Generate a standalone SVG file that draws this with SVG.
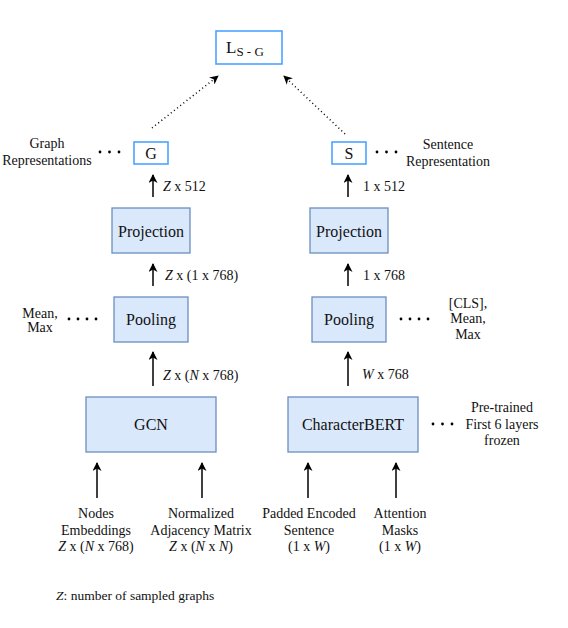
<svg xmlns="http://www.w3.org/2000/svg" width="568" height="628" viewBox="0 0 568 628">
<style>
text{font-family:"Liberation Serif","Times New Roman",serif;fill:#111;}
.lbl{font-size:14px;}
.box{font-size:16px;text-anchor:middle;}
.mid{text-anchor:middle;}
.blue{fill:#dae8fc;stroke:#6c8ebf;stroke-width:1.3;}
.out{fill:#fff;stroke:#4da3ff;stroke-width:1.6;}
.arr{stroke:#000;stroke-width:1.5;fill:none;marker-end:url(#ah);}
.dot{stroke:#000;stroke-width:1.5;fill:none;stroke-dasharray:1 3;marker-end:url(#ah);}
.d{fill:#000;}
</style>
<defs>
<marker id="ah" viewBox="0 0 10 10" refX="9" refY="5" markerWidth="10" markerHeight="9" orient="auto" markerUnits="userSpaceOnUse">
<path d="M0,0 L10,5 L0,10 L3,5 z" fill="#000"/>
</marker>
</defs>
<rect width="568" height="628" fill="#fff"/>

<g id="loss">
<rect class="out" x="216" y="31" width="66" height="33"/>
<text x="226" y="53" font-size="17">L<tspan font-size="13" dy="3">S - G</tspan></text>
</g>

<g id="G">
<rect class="out" x="134" y="142" width="34" height="22"/>
<text class="box" x="151" y="159" font-size="15">G</text>
</g>
<g id="S">
<rect class="out" x="332" y="142" width="34" height="22"/>
<text class="box" x="349" y="159" font-size="15">S</text>
</g>

<g id="graphrep">
<text class="lbl mid" x="47" y="148">Graph</text>
<text class="lbl mid" x="47" y="165">Representations</text>
<circle class="d" cx="100" cy="152" r="1.4"/><circle class="d" cx="109.5" cy="152" r="1.4"/><circle class="d" cx="119" cy="152" r="1.4"/>
</g>
<g id="sentrep">
<text class="lbl mid" x="448" y="149">Sentence</text>
<text class="lbl mid" x="448" y="166">Representation</text>
<circle class="d" cx="377" cy="152" r="1.4"/><circle class="d" cx="386.5" cy="152" r="1.4"/><circle class="d" cx="396" cy="152" r="1.4"/>
</g>

<g id="projL">
<rect class="blue" x="112" y="208" width="78" height="45"/>
<text class="box" x="151" y="237">Projection</text>
</g>
<g id="projR">
<rect class="blue" x="310" y="208" width="78" height="45"/>
<text class="box" x="349" y="237">Projection</text>
</g>

<g id="poolL">
<rect class="blue" x="114" y="297" width="74" height="45"/>
<text class="box" x="151" y="325">Pooling</text>
</g>
<g id="poolR">
<rect class="blue" x="312" y="297" width="74" height="45"/>
<text class="box" x="349" y="325">Pooling</text>
</g>

<g id="meanmax">
<text class="lbl mid" x="40" y="318">Mean,</text>
<text class="lbl mid" x="40" y="332">Max</text>
<circle class="d" cx="69" cy="319" r="1.4"/><circle class="d" cx="78" cy="319" r="1.4"/><circle class="d" cx="87" cy="319" r="1.4"/><circle class="d" cx="96" cy="319" r="1.4"/>
</g>
<g id="clsmeanmax">
<text class="lbl mid" x="468" y="308">[CLS],</text>
<text class="lbl mid" x="468" y="323">Mean,</text>
<text class="lbl mid" x="468" y="339">Max</text>
<circle class="d" cx="401" cy="319" r="1.4"/><circle class="d" cx="410" cy="319" r="1.4"/><circle class="d" cx="419" cy="319" r="1.4"/><circle class="d" cx="428" cy="319" r="1.4"/>
</g>

<g id="gcn">
<rect class="blue" x="86" y="397" width="130" height="55"/>
<text class="box" x="151" y="430">GCN</text>
</g>
<g id="cbert">
<rect class="blue" x="288" y="397" width="130" height="55"/>
<text class="box" x="353" y="430">CharacterBERT</text>
</g>
<g id="pretrained">
<text class="lbl mid" x="502" y="412">Pre-trained</text>
<text class="lbl mid" x="502" y="429">First 6 layers</text>
<text class="lbl mid" x="502" y="445">frozen</text>
<circle class="d" cx="433" cy="424" r="1.4"/><circle class="d" cx="442.5" cy="424" r="1.4"/><circle class="d" cx="452" cy="424" r="1.4"/>
</g>

<g id="inputs">
<text class="lbl mid" x="96" y="518">Nodes</text>
<text class="lbl mid" x="96" y="535">Embeddings</text>
<text class="lbl mid" x="96" y="551"><tspan font-style="italic">Z</tspan> x (<tspan font-style="italic">N</tspan> x 768)</text>
<text class="lbl mid" x="201" y="518">Normalized</text>
<text class="lbl mid" x="201" y="535">Adjacency Matrix</text>
<text class="lbl mid" x="201" y="551"><tspan font-style="italic">Z</tspan> x (<tspan font-style="italic">N</tspan> x <tspan font-style="italic">N</tspan>)</text>
<text class="lbl mid" x="309" y="518">Padded Encoded</text>
<text class="lbl mid" x="309" y="535">Sentence</text>
<text class="lbl mid" x="309" y="551">(1 x <tspan font-style="italic">W</tspan>)</text>
<text class="lbl mid" x="400" y="518">Attention</text>
<text class="lbl mid" x="400" y="535">Masks</text>
<text class="lbl mid" x="400" y="551">(1 x <tspan font-style="italic">W</tspan>)</text>
</g>

<g id="note">
<text x="56" y="600" font-size="13.5"><tspan font-style="italic">Z</tspan>: number of sampled graphs</text>
</g>

<g id="connectors">
<line class="dot" x1="152" y1="128" x2="218" y2="76"/>
<line class="dot" x1="345" y1="134" x2="284" y2="76"/>
<line class="arr" x1="153" y1="197" x2="153" y2="175"/>
<line class="arr" x1="348" y1="197" x2="348" y2="175"/>
<line class="arr" x1="153" y1="286" x2="153" y2="264"/>
<line class="arr" x1="348" y1="286" x2="348" y2="264"/>
<line class="arr" x1="153" y1="386" x2="153" y2="352"/>
<line class="arr" x1="348" y1="386" x2="348" y2="352"/>
<line class="arr" x1="97" y1="498" x2="97" y2="463"/>
<line class="arr" x1="202" y1="498" x2="202" y2="463"/>
<line class="arr" x1="308" y1="498" x2="308" y2="463"/>
<line class="arr" x1="396" y1="498" x2="396" y2="463"/>
<text class="lbl" x="163" y="191"><tspan font-style="italic">Z</tspan> x 512</text>
<text class="lbl" x="363" y="191">1 x 512</text>
<text class="lbl" x="165" y="280"><tspan font-style="italic">Z</tspan> x (1 x 768)</text>
<text class="lbl" x="363" y="280">1 x 768</text>
<text class="lbl" x="163" y="380"><tspan font-style="italic">Z</tspan> x (<tspan font-style="italic">N</tspan> x 768)</text>
<text class="lbl" x="362" y="379"><tspan font-style="italic">W</tspan> x 768</text>
</g>
</svg>
